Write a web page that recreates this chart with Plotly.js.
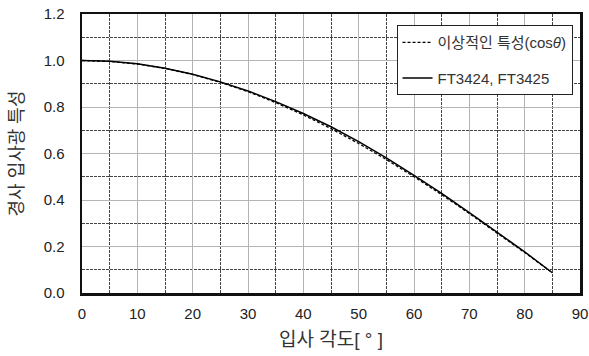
<!DOCTYPE html>
<html>
<head>
<meta charset="utf-8">
<script src="https://cdn.plot.ly/plotly-3.0.1.min.js"></script>
<style>html,body{margin:0;padding:0;background:#fff;}#chart{width:589px;height:356px;}</style>
</head>
<body>
<div id="chart"></div>
<script>
const angles = [0, 5, 10, 15, 20, 25, 30, 35, 40, 45, 50, 55, 60, 65, 70, 75, 80, 85];
const idealCos = [1.000, 0.996, 0.985, 0.966, 0.940, 0.906, 0.866, 0.819, 0.766, 0.707, 0.643, 0.574, 0.500, 0.423, 0.342, 0.259, 0.174, 0.087];
const measured = [1.000, 0.997, 0.986, 0.967, 0.941, 0.908, 0.869, 0.823, 0.772, 0.715, 0.651, 0.581, 0.506, 0.428, 0.346, 0.262, 0.177, 0.087];
const seriesNames = ['이상적인 특성(cos<i>θ</i>)', 'FT3424, FT3425'];
const xTitle = '입사 각도[ ° ]';
const yTitle = '경사 입사광 특성';

const FONT = 'Liberation Sans, Arial, Noto Sans CJK KR, sans-serif';

const traces = [
  {x: angles, y: idealCos, name: seriesNames[0], legendgroup: 'a', mode: 'lines', line: {color: '#000', width: 1.3, dash: '3px,2px'}},
  {x: angles, y: measured, name: seriesNames[1], legendgroup: 'b', mode: 'lines', line: {color: '#000', width: 1.5}}
];

const layout = {
  width: 589, height: 356,
  margin: {l: 82, r: 9, t: 14, b: 63},
  paper_bgcolor: '#fff', plot_bgcolor: '#fff',
  font: {family: FONT, color: '#222', size: 15},
  showlegend: true,
  legend: {
    x: 0.985, y: 0.96, xanchor: 'right', yanchor: 'top',
    bgcolor: '#fff', bordercolor: '#222', borderwidth: 1,
    font: {size: 15, family: FONT, color: '#333'},
    tracegroupgap: 13, itemwidth: 30, traceorder: 'grouped'
  },
  xaxis: {
    range: [0, 90], dtick: 10, tick0: 0,
    showline: true, linecolor: '#111', linewidth: 2.5, mirror: true,
    showgrid: true, gridcolor: '#b4b4b4', gridwidth: 1,
    minor: {dtick: 5, showgrid: true, gridcolor: '#444', gridwidth: 1, griddash: '3px,1px'},
    zeroline: false, ticks: '', ticklabelstandoff: 5,
    tickfont: {size: 15, family: FONT, color: '#222'},
    title: {text: xTitle, font: {size: 19, family: FONT, color: '#333'}, standoff: 12}
  },
  yaxis: {
    range: [0, 1.2], dtick: 0.2, tick0: 0, tickformat: '.1f',
    showline: true, linecolor: '#111', linewidth: 2.5, mirror: true,
    showgrid: true, gridcolor: '#b4b4b4', gridwidth: 1,
    minor: {dtick: 0.1, showgrid: true, gridcolor: '#444', gridwidth: 1, griddash: '3px,1px'},
    zeroline: false, ticks: '', ticklabelstandoff: 12,
    tickfont: {size: 15, family: FONT, color: '#222'},
    title: {text: yTitle, font: {size: 18, family: FONT, color: '#333'}, standoff: 16}
  }
};

Plotly.newPlot('chart', traces, layout, {staticPlot: true, displayModeBar: false});
</script>
</body>
</html>
